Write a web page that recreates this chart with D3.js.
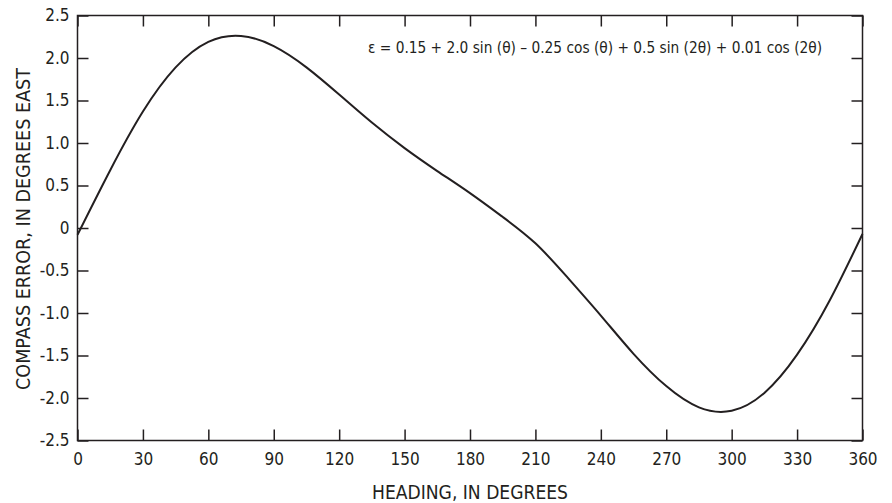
<!DOCTYPE html>
<html>
<head>
<meta charset="utf-8">
<script src="https://cdn.jsdelivr.net/npm/d3@7"></script>
<style>
  html, body { margin: 0; padding: 0; background: #fff; }
  svg { display: block; }
  text { font-family: "Liberation Sans Narrow", "DejaVu Sans Condensed", "Arial Narrow", sans-serif; fill: #231f20; }
</style>
</head>
<body>
<svg id="chart" width="892" height="503"></svg>
<script>
// Heading (degrees) and the compass deviation at each heading (degrees east)
const headings = [0, 15, 30, 45, 60, 75, 90, 105, 120, 135, 150, 165, 180,
                  195, 210, 225, 240, 255, 270, 285, 300, 315, 330, 345, 360];
const compassError = [-0.08, 0.68, 1.37, 1.89, 2.19, 2.26, 2.14, 1.89, 1.57, 1.24, 0.94, 0.67, 0.41,
                      0.13, -0.18, -0.59, -1.03, -1.48, -1.86, -2.11, -2.15, -1.94, -1.49, -0.85, -0.07];

const xTicks = [0, 30, 60, 90, 120, 150, 180, 210, 240, 270, 300, 330, 360];
const yTicks = [2.5, 2.0, 1.5, 1.0, 0.5, 0, -0.5, -1.0, -1.5, -2.0, -2.5];
const yTickLabels = ["2.5", "2.0", "1.5", "1.0", "0.5", "0", "-0.5", "-1.0", "-1.5", "-2.0", "-2.5"];

const xTitle = "HEADING, IN DEGREES";
const yTitle = "COMPASS ERROR, IN DEGREES EAST";
const equation = "\u03b5 = 0.15 + 2.0 sin (\u03b8) \u2013 0.25 cos (\u03b8) + 0.5 sin (2\u03b8) + 0.01 cos (2\u03b8)";

const ink = "#231f20";
const plotLeft = 77.5, plotRight = 862.5, plotTop = 15.5, plotBottom = 440.5;

const svg = d3.select("#chart");

const x = d3.scaleLinear().domain([0, 360]).range([plotLeft, plotRight]);
const y = d3.scaleLinear().domain([-2.5, 2.5]).range([plotBottom, plotTop]);

const tickLen = 11;
const fontSize = 17;

// Bottom axis with labels, ticks pointing into the plot
const gx = svg.append("g")
  .attr("transform", `translate(0,${plotBottom})`)
  .call(d3.axisBottom(x).tickValues(xTicks).tickSize(-tickLen).tickPadding(12).tickFormat(d3.format("d")));

// Top axis: ticks only
const gxTop = svg.append("g")
  .attr("transform", `translate(0,${plotTop})`)
  .call(d3.axisTop(x).tickValues(xTicks).tickSize(-tickLen).tickFormat(""));

// Left axis with labels
const yLabelOf = new Map(yTicks.map((v, i) => [v, yTickLabels[i]]));
const gy = svg.append("g")
  .attr("transform", `translate(${plotLeft},0)`)
  .call(d3.axisLeft(y).tickValues(yTicks).tickSize(-tickLen).tickPadding(8).tickFormat(d => yLabelOf.get(d)));

// Right axis: ticks only
const gyRight = svg.append("g")
  .attr("transform", `translate(${plotRight},0)`)
  .call(d3.axisRight(y).tickValues(yTicks).tickSize(-tickLen).tickFormat(""));

[gx, gxTop, gy, gyRight].forEach(g => {
  g.select(".domain").remove();
  g.selectAll(".tick line").attr("stroke", ink).attr("stroke-width", 1.5);
  g.selectAll(".tick text")
    .attr("font-size", fontSize)
    .attr("fill", ink);
  g.attr("font-family", null).attr("font-size", null);
});

// Plot frame
svg.append("rect")
  .attr("x", plotLeft).attr("y", plotTop)
  .attr("width", plotRight - plotLeft).attr("height", plotBottom - plotTop)
  .attr("fill", "none").attr("stroke", ink).attr("stroke-width", 1.5);

// Compass error curve
const line = d3.line()
  .x((d, i) => x(headings[i]))
  .y(d => y(d))
  .curve(d3.curveNatural);

svg.append("path")
  .datum(compassError)
  .attr("fill", "none")
  .attr("stroke", ink)
  .attr("stroke-width", 2)
  .attr("d", line);

// Equation
svg.append("text")
  .attr("x", 368).attr("y", 53)
  .attr("font-size", 16)
  .attr("textLength", 454)
  .attr("lengthAdjust", "spacingAndGlyphs")
  .text(equation);

// Axis titles
svg.append("text")
  .attr("x", (plotLeft + plotRight) / 2 - 98).attr("y", 499)
  .attr("font-size", 19)
  .attr("textLength", 196)
  .attr("lengthAdjust", "spacingAndGlyphs")
  .text(xTitle);

svg.append("text")
  .attr("transform", `translate(30,${(plotTop + plotBottom) / 2 + 1 + 161}) rotate(-90)`)
  .attr("font-size", 19)
  .attr("textLength", 322)
  .attr("lengthAdjust", "spacingAndGlyphs")
  .text(yTitle);
</script>
</body>
</html>
